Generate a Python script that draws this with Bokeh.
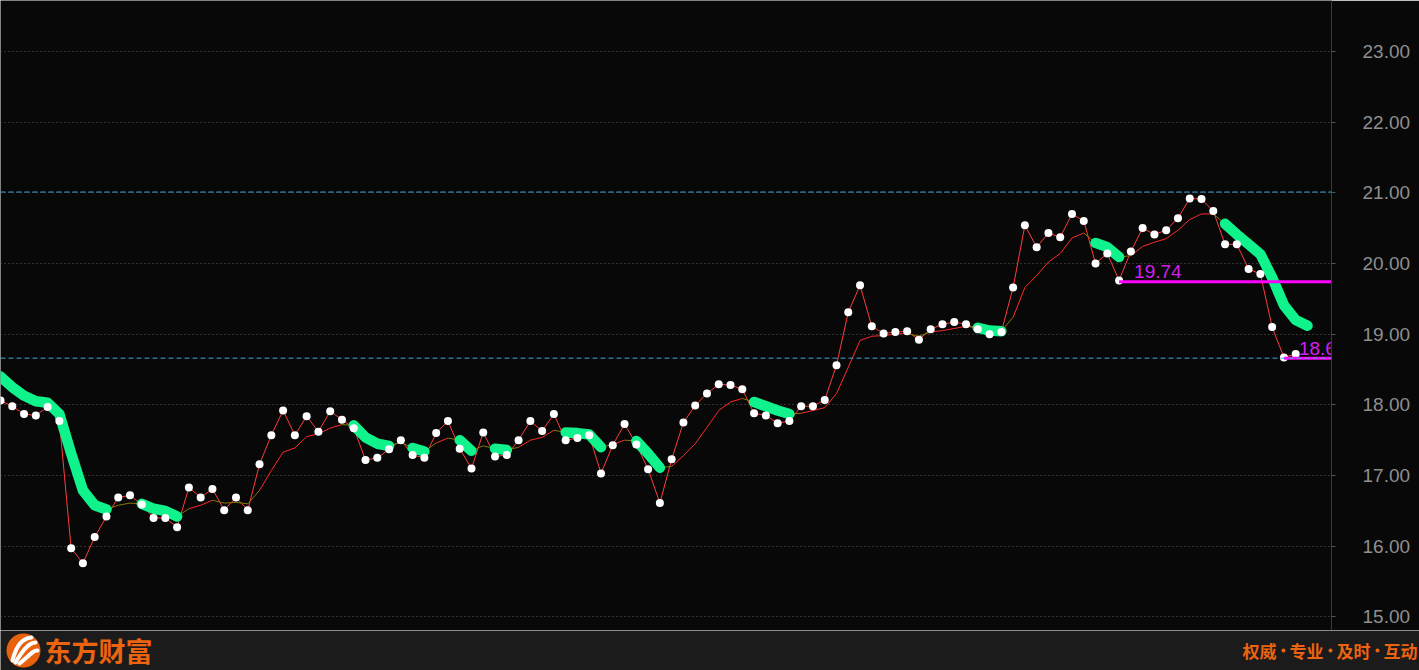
from bokeh.plotting import figure
from bokeh.models import Range1d, FixedTicker, Span, NumeralTickFormatter
from bokeh.embed import file_html
from bokeh.resources import INLINE
from bokeh.core.properties import value

# ---- data ----
price = [18.06, 17.98, 17.87, 17.85, 17.97, 17.77, 15.97, 15.76, 16.13, 16.42,
         16.69, 16.72, 16.59, 16.40, 16.40, 16.27, 16.83, 16.69, 16.81, 16.51,
         16.69, 16.51, 17.16, 17.57, 17.92, 17.57, 17.84, 17.62, 17.91, 17.79,
         17.67, 17.22, 17.25, 17.37, 17.50, 17.29, 17.25, 17.60, 17.77, 17.38,
         17.10, 17.61, 17.27, 17.29, 17.50, 17.77, 17.63, 17.87, 17.50, 17.53,
         17.57, 17.03, 17.43, 17.73, 17.44, 17.09, 16.61, 17.23, 17.75, 17.99,
         18.16, 18.29, 18.28, 18.22, 17.88, 17.85, 17.74, 17.77, 17.98, 17.98,
         18.07, 18.56, 19.31, 19.69, 19.11, 19.01, 19.03, 19.04, 18.92, 19.07,
         19.14, 19.17, 19.14, 19.07, 19.00, 19.03, 19.66, 20.54, 20.23, 20.43,
         20.37, 20.70, 20.60, 20.00, 20.14, 19.76, 20.17, 20.50, 20.41, 20.47,
         20.64, 20.92, 20.91, 20.74, 20.27, 20.27, 19.92, 19.85, 19.10, 18.67,
         18.72]

ma = [18.40, 18.25, 18.13, 18.05, 18.03, 17.87, 17.31, 16.79, 16.58, 16.52,
      16.58, 16.61, 16.60, 16.53, 16.50, 16.42, 16.53, 16.58, 16.65, 16.61,
      16.62, 16.60, 16.79, 17.07, 17.33, 17.39, 17.55, 17.59, 17.67, 17.72,
      17.71, 17.54, 17.45, 17.42, 17.47, 17.39, 17.34, 17.46, 17.53, 17.50,
      17.35, 17.42, 17.38, 17.36, 17.40, 17.50, 17.54, 17.64, 17.61, 17.60,
      17.58, 17.40, 17.44, 17.50, 17.49, 17.31, 17.11, 17.13, 17.28, 17.45,
      17.68, 17.92, 18.04, 18.09, 18.04, 17.98, 17.92, 17.87, 17.88, 17.92,
      17.96, 18.16, 18.53, 18.91, 18.97, 18.98, 19.00, 19.01, 18.97, 19.03,
      19.05, 19.08, 19.11, 19.09, 19.05, 19.04, 19.24, 19.66, 19.83, 20.02,
      20.14, 20.36, 20.43, 20.29, 20.23, 20.09, 20.11, 20.24, 20.30, 20.35,
      20.47, 20.62, 20.70, 20.70, 20.56, 20.41, 20.27, 20.13, 19.80, 19.41,
      19.20, 19.12]

# segment state of the average: U = rising, F = flat, D = falling
trend = ("DDDDDDDDD" "FFF" "DDD" "F" "UU" "FFFF" "UUUUUUU" "F" "DDD" "FF" "D" "F"
         "U" "F" "D" "FF" "D" "F" "UUU" "F" "DDD" "F" "U" "F" "DD" "F" "UUUUUU"
         "F" "DDD" "F" "UUUUUUUUU" "FF" "UUU" "F" "DD" "F" "UUUUUU" "F" "DD" "F"
         "UUUUUUU" "F" "DDDDDDD")

y_ticks = [15, 16, 17, 18, 19, 20, 21, 22, 23]
level_idx = [95, 109]
level_val = [19.74, 18.66]
level_txt = ["19.74", "18.66"]
ref_lines = [21.01, 18.66]

brand = "东方财富"
slogan_words = ["权威", "专业", "及时", "互动"]

# ---- main chart ----
xs = list(range(len(price)))
p = figure(width=1419, height=630, x_range=Range1d(0, 113.04),
           y_range=Range1d(14.808, 23.719), output_backend="svg",
           toolbar_location=None, y_axis_location="right", x_axis_location=None,
           min_border_left=0, min_border_right=88, min_border_top=0,
           min_border_bottom=0, background_fill_color="#080808",
           border_fill_color="#080808", outline_line_color=None)

p.xgrid.visible = False
p.ygrid.ticker = FixedTicker(ticks=y_ticks)
p.ygrid.grid_line_color = "#5a5a5a"
p.ygrid.grid_line_dash = "1 3"
p.ygrid.grid_line_width = 1

ax = p.yaxis[0]
ax.ticker = FixedTicker(ticks=y_ticks)
ax.formatter = NumeralTickFormatter(format="0.00")
ax.axis_line_color = "#3a3a3a"
ax.major_tick_line_color = "#555555"
ax.major_tick_out = 4
ax.major_tick_in = 0
ax.minor_tick_out = 0
ax.minor_tick_in = 0
ax.major_label_text_color = "#8f8f8f"
ax.major_label_text_font = "Liberation Sans"
ax.major_label_text_font_size = "19px"
ax.major_label_standoff = 27

# price line
p.line(xs, price, line_color="#ff3b3b", line_width=1)

# thin average, coloured per segment
colors = {"U": "#ff2a2a", "F": "#857a00", "D": "#857a00"}
x0 = list(range(len(ma) - 1))
x1 = [i + 1 for i in x0]
p.segment(x0=x0, y0=ma[:-1], x1=x1, y1=ma[1:],
          line_color=[colors[t] for t in trend], line_width=1)

# thick green falling runs
runs_x, runs_y = [], []
i = 0
while i < len(trend):
    if trend[i] == "D":
        j = i
        while j < len(trend) and trend[j] == "D":
            j += 1
        runs_x.append(list(range(i, j + 1)))
        runs_y.append(ma[i:j + 1])
        i = j
    else:
        i += 1
p.multi_line(runs_x, runs_y, line_color="#0ff28c", line_width=10.5,
             line_cap="round", line_join="round")

# markers
p.scatter(xs, price, marker="circle", size=8, fill_color="white", line_color=None)

# level lines
p.ray(x=level_idx, y=level_val, length=0, angle=0, line_color="#ff00ff", line_width=3)
for v in ref_lines:
    p.add_layout(Span(location=v, dimension="width", line_color="#3fa9e0",
                      line_dash="5 3", line_width=1))
p.text(x=level_idx, y=level_val, text=level_txt, x_offset=15, y_offset=-10,
       text_baseline="alphabetic", text_align="left",
       text_font=value("Liberation Sans"), text_font_size="19px",
       text_color="#d21ef0")

p.styles = {"position": "absolute", "left": "0px", "top": "0px"}

# ---- footer ----
f = figure(width=1419, height=40, x_range=Range1d(0, 1419), y_range=Range1d(0, 40),
           output_backend="svg", toolbar_location=None, x_axis_location=None,
           y_axis_location=None, min_border_left=0, min_border_right=0,
           min_border_top=0, min_border_bottom=0, background_fill_color="#1b1b1b",
           border_fill_color="#1b1b1b", outline_line_color=None)
f.grid.visible = False
f.circle(x=[23], y=[20], radius=17, fill_color="#e8620e", line_color=None)
f.bezier(x0=[12, 15, 19], y0=[10, 8, 7], x1=[31, 35, 37], y1=[33, 28, 20],
         cx0=[16, 22, 28], cy0=[26, 20, 14], cx1=[22, 28, 33], cy1=[32, 28, 21],
         line_color="white", line_width=4, line_cap="round")
f.text(x=[44], y=[20], text=[brand], text_baseline="middle", text_align="left",
       text_font=value("Noto Sans CJK SC"), text_font_style="bold",
       text_font_size="27px", text_color="#ec6310")
word_x = [1242 + 47 * k for k in range(len(slogan_words))]
dot_x = [1283 + 47 * k for k in range(len(slogan_words) - 1)]
f.text(x=word_x, y=[20] * len(word_x), text=slogan_words, text_baseline="middle",
       text_align="left", text_font=value("Noto Sans CJK SC"),
       text_font_style="bold", text_font_size="17px", text_color="#ec6310")
f.scatter(x=dot_x, y=[20] * len(dot_x), marker="circle", size=4,
          fill_color="#ec6310", line_color=None)
f.styles = {"position": "absolute", "left": "0px", "top": "630px"}

open("out.html", "w").write(file_html([p, f], INLINE))
